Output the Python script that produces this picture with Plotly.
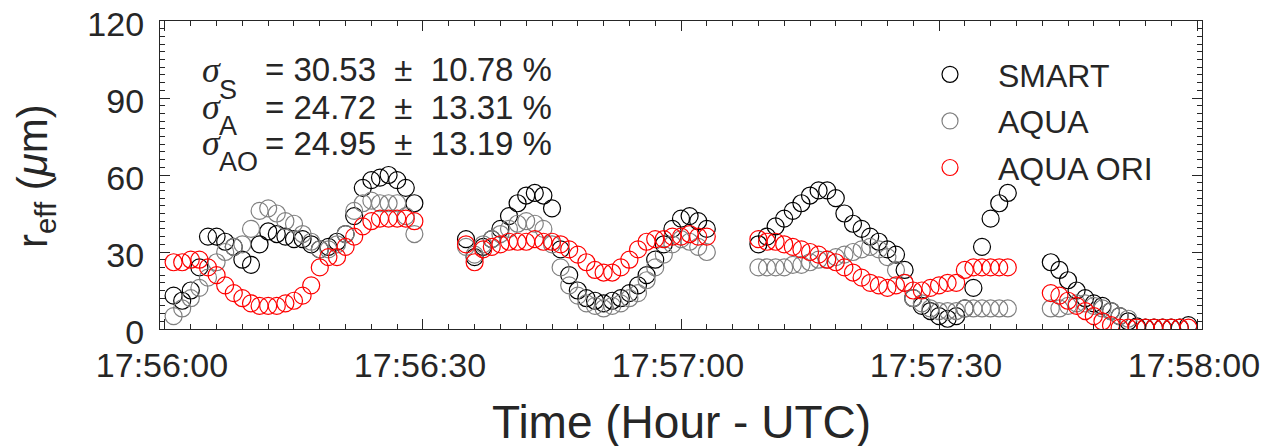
import plotly.graph_objects as go

# ---- time stamps: seconds after 17:56:00 UTC ----
t_seg1 = list(range(1, 30))
t_seg2 = list(range(35, 64))
t_seg3 = list(range(69, 99))
t_seg4 = list(range(103, 120))
t_seg4_aqua = list(range(103, 113))

# ---- effective radius values (micrometres) ----
smart_seg1 = [13, 11, 15, 24, 36, 36, 34, 32, 27, 25, 33, 38, 37, 36, 35, 35, 33, 31, 32, 34, 37, 44, 55, 58, 59, 60, 58, 55, 49]
smart_seg2 = [35, 28, 32, 35, 39, 44, 49, 52, 53, 52, 47, 31, 21, 15, 12, 11, 10, 11, 12, 14, 17, 21, 27, 33, 39, 43, 44, 42, 39]
smart_seg3 = [33, 36, 40, 43, 46, 49, 52, 54, 54, 51, 45, 41, 39, 36, 34, 31, 29, 23, 12, 9, 7, 5, 4, 5, 8, 16, 32, 43, 49, 53]
smart_seg4 = [26, 23, 19, 15, 12, 10, 9, 7, 5, 3, 1, 0.5, 0.5, 0.5, 0.5, 0.5, 1.5]

aqua_seg1 = [5, 8, 12, 16, 20, 26, 30, 32, 33, 39, 46, 47, 45, 42, 41, 37, 34, 31, 31, 33, 37, 46, 49, 50, 49, 49, 49, 44, 37]
aqua_seg2 = [32, 29, 33, 35, 37, 39, 41, 42, 41, 39, 33, 24, 17, 13, 10, 9, 8, 9, 10, 12, 14, 19, 24, 29, 33, 35, 34, 32, 30]
aqua_seg3 = [24, 24, 24, 24, 25, 25, 26, 27, 27, 28, 29, 30, 31, 32, 31, 28, 23, 18, 12, 10, 8, 7, 7, 7, 8, 8, 8, 8, 8, 8]
aqua_seg4 = [8, 8, 9, 10, 10, 9, 8, 7, 5, 4]

ori_seg1 = [26, 26, 27, 27, 24, 21, 17, 14, 12, 10, 9, 9, 9, 10, 11, 13, 17, 24, 28, 28, 32, 36, 40, 42, 43, 43, 43, 43, 42]
ori_seg2 = [33, 26, 31, 32, 33, 34, 34, 34, 35, 34, 34, 33, 31, 29, 26, 23, 22, 22, 24, 27, 31, 34, 35, 35, 36, 36, 37, 36, 36]
ori_seg3 = [35, 34, 34, 33, 32, 31, 30, 29, 27, 26, 24, 22, 20, 18, 17, 16, 17, 18, 15, 15, 16, 17, 18, 18, 23, 24, 24, 24, 24, 24]
ori_seg4 = [14, 13, 11, 9, 7, 5, 3, 1.5, 0.5, 0.5, 0.5, 0.5, 0.5, 0.5, 0.5, 0.5, 0.5]

tick_vals = [0, 30, 60, 90, 120]
tick_text = ["17:56:00", "17:56:30", "17:57:00", "17:57:30", "17:58:00"]

stats_labels = ["S", "A", "AO"]
stats_text = ["= 30.53\u00a0 \u00b1 \u00a010.78 %", "= 24.72\u00a0 \u00b1 \u00a013.31 %", "= 24.95\u00a0 \u00b1 \u00a013.19 %"]

FONT = "Liberation Sans, Arial, sans-serif"
TXT = "#262626"

# page body has an 8px margin; plot area in page pixels: x 160..1202, y 21..329
def px(xp):
    return (xp - 160) / 1042

def py(yp):
    return (329 - yp) / 308

fig = go.Figure()

series = [
    ("SMART", t_seg1 + t_seg2 + t_seg3 + t_seg4, smart_seg1 + smart_seg2 + smart_seg3 + smart_seg4, "#000000"),
    ("AQUA", t_seg1 + t_seg2 + t_seg3 + t_seg4_aqua, aqua_seg1 + aqua_seg2 + aqua_seg3 + aqua_seg4, "#808080"),
    ("AQUA ORI", t_seg1 + t_seg2 + t_seg3 + t_seg4, ori_seg1 + ori_seg2 + ori_seg3 + ori_seg4, "#ff0000"),
]
for name, xs, ys, col in series:
    fig.add_trace(go.Scatter(
        x=xs, y=ys, mode="markers", name=name, legendgroup=name,
        marker=dict(symbol="circle-open", size=17, color=col, line=dict(width=1.2, color=col)),
    ))

axis_common = dict(
    showline=True, linecolor=TXT, linewidth=1.3, mirror="allticks",
    ticks="inside", ticklen=10, tickwidth=1.3, tickcolor=TXT,
    showgrid=False, zeroline=False, ticklabeloverflow="allow",
    tickfont=dict(family=FONT, size=34, color=TXT),
)

fig.update_xaxes(
    range=[-0.58, 120.58], tickmode="array", tickvals=tick_vals, ticktext=tick_text,
    minor=dict(ticks="inside", ticklen=5, tickwidth=1.2, tickcolor=TXT, dtick=3, tick0=0, showgrid=False),
    ticklabelstandoff=6, ticklabelshift=-3,
    **axis_common,
)
fig.update_yaxes(
    range=[0, 120], tickmode="array", tickvals=[0, 30, 60, 90, 120],
    minor=dict(ticks="inside", ticklen=5, tickwidth=1.2, tickcolor=TXT, dtick=3, tick0=0, showgrid=False),
    ticklabelstandoff=8, ticklabelshift=3,
    **axis_common,
)

annos = []
# axis titles
annos.append(dict(xref="paper", yref="paper", x=px(681), y=py(422), xanchor="center", yanchor="middle",
                  showarrow=False, text="Time (Hour - UTC)", font=dict(family=FONT, size=46, color=TXT)))
annos.append(dict(xref="paper", yref="paper", x=px(35), y=py(176), xanchor="center", yanchor="middle",
                  showarrow=False, textangle=-90, text="r<sub>eff</sub> (<i>\u03bc</i>m)",
                  font=dict(family=FONT, size=42, color=TXT)))

rows_y = [70, 107, 143]
sub_y = [90, 126, 162]
for i in range(3):
    annos.append(dict(xref="paper", yref="paper", x=px(200), y=py(rows_y[i]),
                      xanchor="left", yanchor="middle", showarrow=False, text="<i>\u03c3</i>",
                      font=dict(family="Liberation Serif, serif", size=36, color=TXT)))
    annos.append(dict(xref="paper", yref="paper", x=px(217), y=py(sub_y[i]),
                      xanchor="left", yanchor="middle", showarrow=False, text=stats_labels[i],
                      font=dict(family=FONT, size=27, color=TXT)))
    annos.append(dict(xref="paper", yref="paper", x=px(263), y=py(rows_y[i]),
                      xanchor="left", yanchor="middle", showarrow=False, text=stats_text[i],
                      font=dict(family=FONT, size=33, color=TXT)))

fig.update_layout(
    width=1268, height=446,
    margin=dict(l=152, r=74, t=13, b=125, autoexpand=False),
    paper_bgcolor="white", plot_bgcolor="white",
    font=dict(family=FONT, color=TXT),
    annotations=annos,
    legend=dict(x=px(902), y=py(47), xanchor="left", yanchor="top",
                bgcolor="rgba(0,0,0,0)", font=dict(family=FONT, size=32, color=TXT),
                itemwidth=86, tracegroupgap=2),
)

fig.write_html("out.html")
